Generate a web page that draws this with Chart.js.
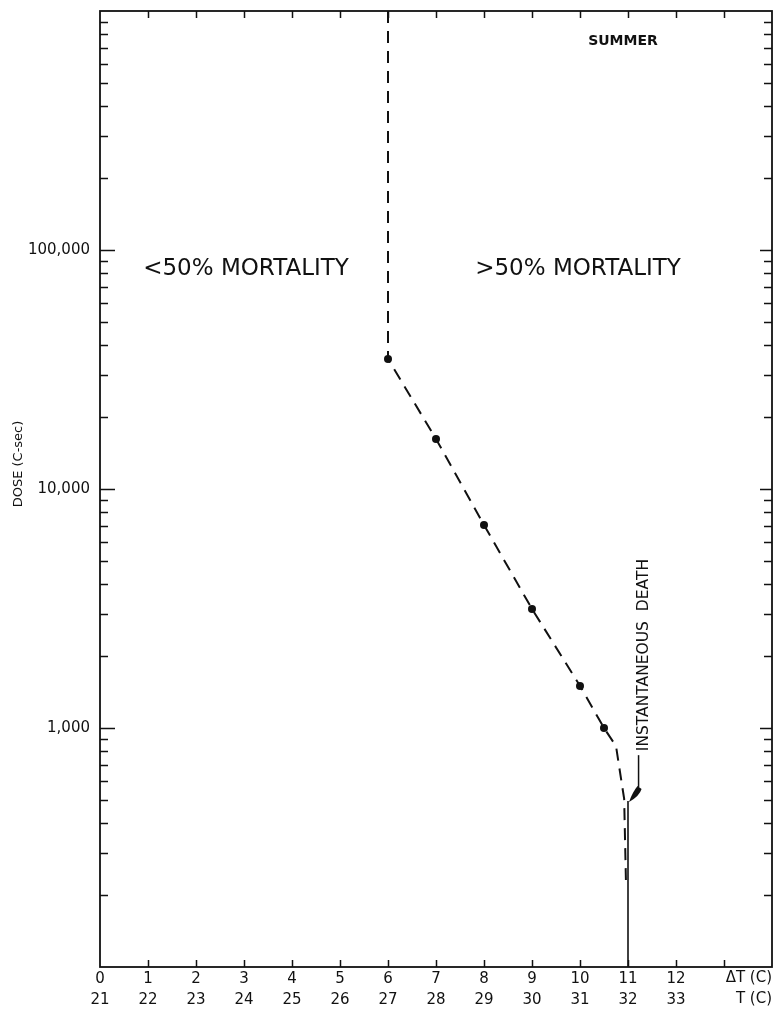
<!DOCTYPE html>
<html>
<head>
<meta charset="utf-8">
<script src="https://cdn.jsdelivr.net/npm/chart.js@4.4.1/dist/chart.umd.min.js"></script>
<style>
  html, body { margin: 0; padding: 0; background: #fff; }
  canvas { display: block; }
</style>
</head>
<body>
<canvas id="chart" width="777" height="1010"></canvas>
<script>
// Datos (dosis letal, verano)
const deltaTicks = [0, 1, 2, 3, 4, 5, 6, 7, 8, 9, 10, 11, 12];
const tempTicks = [21, 22, 23, 24, 25, 26, 27, 28, 29, 30, 31, 32, 33];
const doseLabels = [1000, 10000, 100000];
const minorMult = [2, 3, 4, 5, 6, 7, 8, 9];
const decades = [100, 1000, 10000, 100000];

// puntos observados
const obsX = [6, 7, 8, 9, 10, 10.5];
const obsY = [35000, 16200, 7070, 3150, 1500, 1000];

// linea limite (discontinua)
const limitX = [6, 6, 7, 8, 9, 10, 10.5, 10.75, 10.92, 10.96];
const limitY = [1000000, 35000, 16200, 7070, 3150, 1500, 1000, 840, 505, 215];

// muerte instantanea (linea continua)
const instX = [11, 11];
const instY = [100, 495];

const FONT = "'DejaVu Sans', sans-serif";
const INK = "#111";

const toPts = (xs, ys) => xs.map((x, i) => ({ x, y: ys[i] }));

// Marco, marcas y textos
const framePlugin = {
  id: "frame",
  afterDraw(chart) {
    const { ctx, chartArea: a, scales } = chart;
    const xs = scales.x, ys = scales.y;
    ctx.save();
    ctx.strokeStyle = INK;
    ctx.lineWidth = 1.8;
    ctx.strokeRect(a.left, a.top, a.right - a.left, a.bottom - a.top);

    // marcas en x (abajo y arriba)
    ctx.lineWidth = 1.5;
    ctx.beginPath();
    for (let i = 1; i <= 13; i++) {
      const px = Math.round(xs.getPixelForValue(i)) + 0.5;
      ctx.moveTo(px, a.bottom); ctx.lineTo(px, a.bottom - 7);
      ctx.moveTo(px, a.top); ctx.lineTo(px, a.top + 7);
    }
    // marcas en y (izquierda y derecha)
    decades.forEach((d) => {
      minorMult.forEach((m) => {
        const py = Math.round(ys.getPixelForValue(m * d)) + 0.5;
        ctx.moveTo(a.left, py); ctx.lineTo(a.left + 8, py);
        ctx.moveTo(a.right, py); ctx.lineTo(a.right - 8, py);
      });
    });
    doseLabels.forEach((v) => {
      const py = Math.round(ys.getPixelForValue(v)) + 0.5;
      ctx.moveTo(a.left, py); ctx.lineTo(a.left + 15, py);
      ctx.moveTo(a.right, py); ctx.lineTo(a.right - 12, py);
    });
    ctx.stroke();

    ctx.fillStyle = INK;
    // titulos de los ejes x
    ctx.font = "15px " + FONT;
    ctx.textAlign = "right";
    ctx.textBaseline = "middle";
    ctx.fillText("\u0394T (C)", a.right, 978);
    ctx.fillText("T (C)", a.right, 999);

    // titulo eje y
    ctx.save();
    ctx.translate(19, 464);
    ctx.rotate(-Math.PI / 2);
    ctx.textAlign = "center";
    ctx.font = "13px " + FONT;
    ctx.fillText("DOSE (C-sec)", 0, 0);
    ctx.restore();

    // regiones
    ctx.textAlign = "center";
    ctx.font = "23px " + FONT;
    ctx.fillText("<50% MORTALITY", 246, 269);
    ctx.fillText(">50% MORTALITY", 578, 269);

    ctx.font = "bold 14px " + FONT;
    ctx.fillText("SUMMER", 623, 41);

    // muerte instantanea
    const tx = xs.getPixelForValue(11.22);
    const tBase = ys.getPixelForValue(800);
    ctx.save();
    ctx.translate(tx + 5, tBase);
    ctx.rotate(-Math.PI / 2);
    ctx.textAlign = "left";
    ctx.font = "15.5px " + FONT;
    ctx.fillText("INSTANTANEOUS  DEATH", 0, 0);
    ctx.restore();

    const x0 = xs.getPixelForValue(11);
    const yEnd = ys.getPixelForValue(495);
    ctx.lineWidth = 1.5;
    ctx.beginPath();
    ctx.moveTo(tx, tBase + 4);
    ctx.lineTo(tx, yEnd - 14);
    ctx.stroke();
    // punta de flecha (cuna rellena)
    ctx.beginPath();
    ctx.moveTo(x0 + 1, yEnd + 1);
    ctx.quadraticCurveTo(tx - 6, yEnd - 9, tx - 1, yEnd - 15);
    ctx.lineTo(tx + 3, yEnd - 12);
    ctx.quadraticCurveTo(tx + 1, yEnd - 5, x0 + 1, yEnd + 1);
    ctx.closePath();
    ctx.fill();
    ctx.restore();
  },
};

new Chart(document.getElementById("chart"), {
  type: "scatter",
  data: {
    datasets: [
      {
        data: toPts(limitX, limitY),
        showLine: true,
        borderColor: INK,
        borderWidth: 2,
        borderDash: [12, 8],
        pointRadius: 0,
      },
      {
        data: toPts(instX, instY),
        showLine: true,
        borderColor: INK,
        borderWidth: 1.6,
        pointRadius: 0,
      },
      {
        data: toPts(obsX, obsY),
        showLine: false,
        pointRadius: 4,
        pointBackgroundColor: INK,
        pointBorderColor: INK,
        pointBorderWidth: 0,
      },
    ],
  },
  options: {
    responsive: false,
    animation: false,
    layout: { padding: { top: 7, right: 5, bottom: 0, left: 0 } },
    plugins: { legend: { display: false }, tooltip: { enabled: false } },
    scales: {
      x: {
        type: "linear",
        min: 0,
        max: 14,
        grid: { display: false },
        border: { display: false },
        afterFit: (s) => { s.height = 43; },
        ticks: {
          stepSize: 1,
          autoSkip: false,
          maxRotation: 0,
          padding: -6,
          color: INK,
          font: { family: FONT, size: 15, lineHeight: 1.4 },
          callback: (v) => {
            const i = deltaTicks.indexOf(v);
            return i >= 0 ? [String(deltaTicks[i]), String(tempTicks[i])] : "";
          },
        },
      },
      y: {
        type: "logarithmic",
        min: 100,
        max: 1000000,
        grid: { display: false },
        border: { display: false },
        afterFit: (s) => { s.width = 100; },
        ticks: {
          autoSkip: false,
          padding: 2,
          color: INK,
          font: { family: FONT, size: 15 },
          callback: (v) => (doseLabels.includes(v) ? v.toLocaleString("en-US") : ""),
        },
      },
    },
  },
  plugins: [framePlugin],
});
</script>
</body>
</html>
